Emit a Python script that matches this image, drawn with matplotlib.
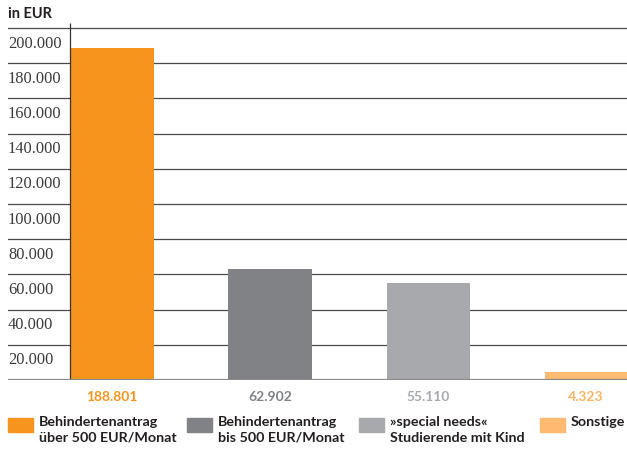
import matplotlib
matplotlib.use("Agg")
import matplotlib.pyplot as plt
import matplotlib.transforms as mtransforms
from matplotlib.patches import Rectangle

# Data
categories = ["Behindertenantrag\nüber 500 EUR/Monat",
              "Behindertenantrag\nbis 500 EUR/Monat",
              "»special needs«\nStudierende mit Kind",
              "Sonstige"]
values = [188801, 62902, 55110, 4323]
colors = ["#F7941D", "#808285", "#A7A9AC", "#FDBA70"]
label_colors = ["#F7941D", "#808285", "#A7A9AC", "#FDB462"]
yticks = [20000, 40000, 60000, 80000, 100000, 120000, 140000, 160000, 180000, 200000]
unit_label = "in EUR"


def de_fmt(v):
    return f"{v:,}".replace(",", ".")


W, H = 627, 450
fig = plt.figure(figsize=(W / 100, H / 100), dpi=100)

# axes spans from the left gridline start to the right edge
ax_left_px, ax_right_px = 8, 627
ax_bottom_px, ax_top_px = 380, 23
ax = fig.add_axes([ax_left_px / W, 1 - ax_bottom_px / H,
                   (ax_right_px - ax_left_px) / W, (ax_bottom_px - ax_top_px) / H])

px_per_unit = 158
x0_px = 112
ax.set_xlim((ax_left_px - x0_px) / px_per_unit, (ax_right_px - x0_px) / px_per_unit)
ax.set_ylim(0, 202800)
for s in ax.spines.values():
    s.set_visible(False)
ax.set_xticks([])
ax.set_yticks([])

# horizontal gridlines
for v in yticks:
    ax.axhline(v, color="#4a4a4a", lw=0.9, zorder=1)
ax.axhline(0, color="#8a8a8a", lw=1.6, zorder=4)

# vertical axis line
yaxis_x = (70 - x0_px) / px_per_unit
ax.plot([yaxis_x, yaxis_x], [0, 202800], color="#333333", lw=0.9, zorder=3,
        solid_capstyle="butt")

xs = list(range(len(values)))
ax.bar(xs, values, width=83 / px_per_unit, color=colors, zorder=2)

# tick labels below their gridlines
blend = mtransforms.blended_transform_factory(ax.transAxes, ax.transData)
off = mtransforms.offset_copy(blend, fig=fig, x=0, y=-5.5, units="points")
for v in yticks:
    ax.text(0, v, de_fmt(v), transform=off, ha="left", va="top",
            fontsize=11.8, family="Liberation Serif", color="#3a3a3a")

# value labels under the bars
for x, v, c in zip(xs, values, label_colors):
    ax.text(x, 0, de_fmt(v), transform=mtransforms.offset_copy(ax.transData, fig=fig, y=-12, units="points"),
            ha="center", va="center", fontsize=10, fontweight="bold",
            family="Lato", color=c)

fig.text(8 / W, 1 - 14 / H, unit_label, ha="left", va="center", fontsize=10.5,
         fontweight="bold", family="Lato", color="#231F20")

# legend
patch_x = [8, 187, 359, 540]
for px, lab, c in zip(patch_x, categories, colors):
    fig.patches.append(Rectangle((px / W, 1 - 432 / H), 25 / W, 14 / H,
                                 transform=fig.transFigure, color=c))
    fig.text((px + 31) / W, 1 - 416 / H, lab, ha="left", va="top",
             fontsize=10.3, fontweight="bold", family="Lato", color="#231F20",
             linespacing=1.4)

fig.savefig("out.png", dpi=100)
